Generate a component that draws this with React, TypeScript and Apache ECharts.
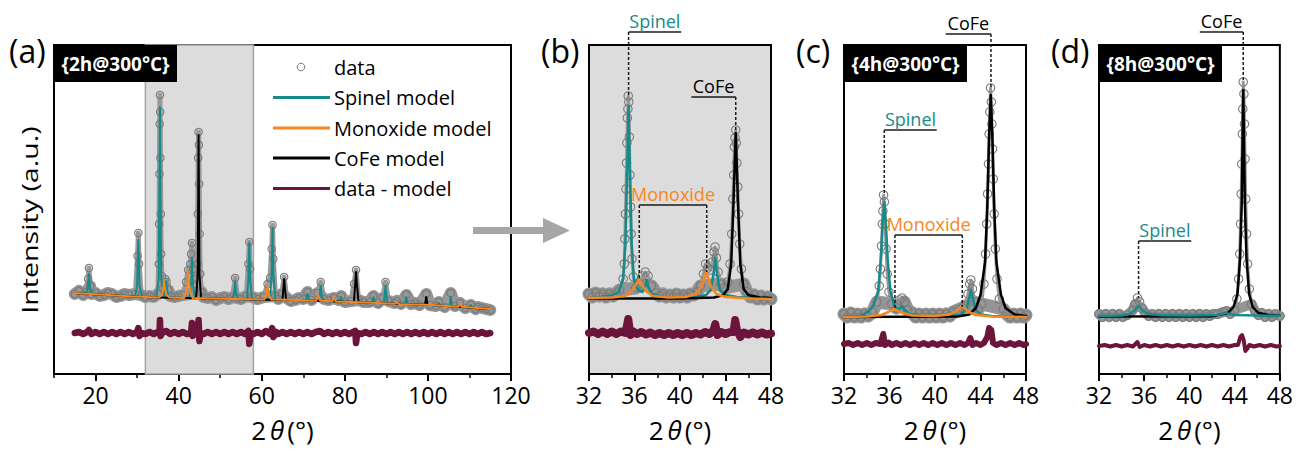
import React, { useEffect, useRef } from 'react';
import * as echarts from 'echarts';

// ---------- axis ticks ----------
const ticksA = [20, 40, 60, 80, 100, 120];
const minorA = [10, 30, 50, 70, 90, 110];
const ticksZoom = [32, 36, 40, 44, 48];
const minorZoom = [34, 38, 42, 46];
const shadeRange = [32, 58];

// ---------- panel (a) 2h@300°C, full range ----------
const dataA = [[15,80],[16,83],[17,79],[17.8,82],[18.2,95],[18.4,106],[18.7,88],[19,80],[20,81],[21,78],[22,79],[23,81],[24,80],[25,77],[26,78],[27,80],[28,79],[29.6,80],[30.1,118],[30.3,141],[30.5,110],[31,79],[32,77],[33,78],[34,77],[35,80],[35.2,110],[35.3,150],[35.38,200],[35.44,250],[35.5,279],[35.56,262],[35.62,216],[35.7,160],[35.8,120],[35.95,98],[36.3,86],[36.8,95],[37.1,92],[37.5,84],[38,78],[39,77],[40,78],[41,79],[41.8,92],[42.3,104],[42.8,110],[43.0,120],[43.2,131],[43.5,105],[43.8,95],[44.3,90],[44.5,110],[44.6,160],[44.7,216],[44.8,242],[44.88,229],[44.95,190],[45.05,140],[45.2,100],[45.5,82],[46,77],[47,76],[48,77],[49,74],[50,76],[51,77],[52,75],[53,77],[53.6,96],[54.2,76],[55,75],[56.3,78],[56.8,110],[57,132],[57.2,105],[57.7,77],[59,75],[60.5,77],[61.4,90],[62,96],[62.4,125],[62.6,149],[62.8,115],[63.3,78],[64,75],[64.8,80],[65.4,97],[66,76],[67,73],[68,74],[69,76],[70,75],[71,82],[72,74],[73.4,81],[74.2,92],[75,75],[76,74],[77.4,76],[78.5,74],[79.1,78],[80,72],[81.5,73],[82.2,90],[82.7,104],[83.3,74],[84.5,72],[86,72],[86.9,78],[88,71],[89.1,76],[89.8,92],[90.5,73],[92,71],[92.5,73],[93.5,70],[94.8,79],[96,70],[97,71],[98,69],[99.6,80],[100.5,69],[102,68],[102.6,72],[104,67],[105.5,81],[106.5,68],[107.7,71],[109,66],[110.3,69],[111.5,65],[112,67],[113,66],[114,65],[115,64]];
const spinelA = [[15,81],[17.6,80.3],[18.1,85],[18.4,100],[18.7,85],[19.3,79.8],[29.5,77.7],[30.0,88],[30.3,134],[30.6,88],[31.2,77.4],[34.6,76.7],[35.2,95],[35.4,200],[35.5,267],[35.6,200],[35.8,95],[36.5,78],[36.8,84],[37.0,93],[37.2,84],[37.6,76.5],[42.6,76],[43.0,90],[43.2,116],[43.4,90],[43.9,75.8],[53.0,75],[53.4,82],[53.6,93],[53.8,82],[54.3,75],[56.4,74.8],[56.8,95],[57.0,131],[57.2,95],[57.7,74.7],[62.0,74.4],[62.4,100],[62.6,146],[62.8,100],[63.3,74.3],[70.6,74],[71.0,80],[71.4,73.8],[73.8,73.3],[74.0,80],[74.2,88],[74.4,80],[74.8,73],[78.8,72.5],[79.1,77],[79.4,72.4],[86.6,71.3],[86.9,77],[87.2,71.1],[89.4,70.8],[89.6,79],[89.8,88],[90.0,79],[90.3,70.6],[94.5,70],[94.8,77],[95.1,69.9],[102.3,68.6],[102.6,71],[102.9,68.5],[105.2,67.8],[105.5,77],[105.8,67.7],[110.0,66.4],[110.3,69],[110.6,66.3],[115,65]];
const cofeA = [[15,81],[29,77.5],[35,76.5],[44.2,75.8],[44.6,100],[44.8,239],[45.0,100],[45.4,75.7],[53,75],[65.0,74.1],[65.2,85],[65.4,95],[65.6,85],[65.9,74],[69,74],[82.2,72.1],[82.5,90],[82.7,102],[82.9,90],[83.3,71.8],[85,71.5],[99.3,69.3],[99.6,77],[99.9,69.2],[101,69],[115,65]];
const monoxideA = [[15,81],[29,77.5],[35.3,76.5],[36.0,79],[36.3,85],[36.5,94],[36.7,85],[37.1,79],[37.8,76.4],[41.3,76],[41.9,82],[42.15,92],[42.3,103],[42.45,92],[42.8,82],[43.4,75.9],[53,75],[60.6,74.5],[61.1,79],[61.4,88],[61.7,79],[62.3,74.4],[69,74],[73.1,73.3],[73.6,79],[74.1,73.2],[77.0,72.7],[77.4,77],[77.8,72.6],[85,71.5],[92.1,70.3],[92.5,72],[92.9,70.1],[101,69],[107.3,67.3],[107.7,70],[108.1,67.2],[115,65]];
const residualA = [[15,41],[16,42],[17,40],[18,42],[18.4,44],[19,40],[20,42],[21,40],[22,42],[23,40],[24,42],[25,40],[26,42],[27,40],[28,42],[29,40],[30,42],[30.3,46],[30.6,38],[31,41],[32,40],[33,42],[34,40],[35,42],[35.4,41],[35.5,54],[35.65,38],[36,41],[37,43],[38,40],[39,42],[40,40],[41,42],[42,40],[43,41],[43.2,51],[43.4,38],[44,41],[44.6,41],[44.8,54],[45.0,33],[45.3,41],[46,40],[47,42],[48,40],[49,42],[50,40],[51,42],[52,40],[53,42],[54,40],[55,42],[56,40],[56.8,43],[57.0,30],[57.3,41],[58,40],[59,42],[60,40],[61,43],[62,40],[62.5,46],[62.8,37],[63.5,42],[64,40],[65,42],[66,40],[67,42],[68,40],[69,42],[70,40],[71,42],[72,40],[73,42],[74,43],[75,40],[76,42],[77,40],[78,42],[79,40],[80,42],[81,40],[82,42],[82.5,43],[82.7,31],[83.0,41],[84,40],[85,42],[86,40],[87,42],[88,40],[89,42],[90,40],[91,42],[92,40],[93,42],[94,40],[95,42],[96,40],[97,42],[98,40],[99,42],[100,40],[101,42],[102,40],[103,42],[104,40],[105,42],[106,40],[107,42],[108,40],[109,42],[110,40],[111,42],[112,40],[113,42],[114,40],[115,41]];

// ---------- panel (b) zoom of 2h@300°C ----------
const dataB = [[32,80],[32.3,77],[32.6,81],[32.9,78],[33.2,80],[33.5,77],[33.8,80],[34.1,78],[34.4,81],[34.7,84],[35.0,95],[35.1,110],[35.15,135],[35.2,160],[35.25,185],[35.3,211],[35.33,231],[35.37,256],[35.42,265],[35.45,278],[35.5,272],[35.55,237],[35.6,199],[35.65,167],[35.7,140],[35.78,115],[35.9,97],[36.1,86],[36.4,90],[36.7,98],[36.95,102],[37.2,98],[37.5,88],[37.9,81],[38.2,78],[38.5,80],[38.8,77],[39.1,79],[39.4,77],[39.7,80],[40,77],[40.3,79],[40.6,77],[40.9,80],[41.2,79],[41.5,82],[41.8,88],[42.05,100],[42.25,110],[42.45,106],[42.65,104],[42.85,112],[43.0,122],[43.08,127],[43.2,116],[43.35,102],[43.6,90],[43.9,86],[44.2,92],[44.4,110],[44.55,140],[44.65,175],[44.72,199],[44.78,227],[44.84,236],[44.9,244],[44.95,231],[45.0,211],[45.08,187],[45.15,160],[45.25,130],[45.4,105],[45.6,90],[45.9,82],[46.2,77],[46.5,79],[46.8,75],[47.1,78],[47.4,75],[47.7,77],[48,75]];
const spinelB = [[32,76],[33,77],[34,78.5],[34.6,82],[35.0,95],[35.2,130],[35.35,200],[35.48,267],[35.6,200],[35.75,130],[35.95,95],[36.3,84],[36.7,82],[36.95,88],[37.07,94],[37.2,88],[37.5,80],[38.5,77],[40,76.5],[41.5,77],[42.3,79],[42.7,84],[42.95,100],[43.1,116],[43.25,100],[43.5,84],[44,79],[45,77],[46,76.5],[48,76]];
const cofeB = [[32,75.5],[40,75.5],[43,76.5],[43.8,79],[44.2,85],[44.5,110],[44.7,170],[44.9,241],[45.1,170],[45.3,110],[45.6,85],[46,79],[47,76.5],[48,76]];
const monoxideB = [[32,76],[34,76.5],[35.2,78],[35.8,83],[36.15,90],[36.4,94],[36.65,90],[37.0,83],[37.6,78],[39,76.5],[40.5,77],[41.4,80],[41.9,88],[42.15,97],[42.3,102],[42.45,97],[42.7,88],[43.2,80],[44,77],[46,75.5],[48,75]];
const residualB = [[32,41],[32.4,42.5],[32.8,40],[33.2,42.5],[33.6,40],[34,42.5],[34.4,40],[34.8,42.5],[35.2,41],[35.45,55],[35.65,39],[35.9,42.5],[36.2,40],[36.6,42],[37,39.5],[37.4,41.5],[37.8,39],[38.2,41],[38.6,39],[39,41],[39.4,39],[39.8,41],[40.2,39],[40.6,41],[41,39],[41.4,41],[41.8,39.5],[42.2,42],[42.6,40],[42.95,44],[43.1,50],[43.3,39],[43.6,42],[44,40],[44.4,42],[44.7,42],[44.85,54],[45.0,44],[45.3,37],[45.6,41.5],[46,39.5],[46.4,41.5],[46.8,39.5],[47.2,41.5],[47.6,39.5],[48,40.5]];

// ---------- panel (c) 4h@300°C ----------
const dataC = [[32,60],[32.3,57],[32.6,61],[32.9,57],[33.2,60],[33.5,57],[33.8,60],[34.1,58],[34.5,62],[34.9,72],[35.1,88],[35.2,105],[35.3,128],[35.37,150],[35.42,163],[35.48,179],[35.55,172],[35.62,150],[35.7,125],[35.8,100],[35.95,82],[36.2,70],[36.6,66],[36.9,74],[37.1,76],[37.3,72],[37.6,64],[38,61],[38.3,57],[38.6,60],[38.9,57],[39.2,60],[39.5,57],[39.8,60],[40.1,57],[40.4,60],[40.7,57],[41,60],[41.3,58],[41.6,62],[42,64],[42.4,66],[42.7,68],[42.9,80],[43.05,90],[43.15,94],[43.3,85],[43.5,72],[43.8,65],[44.1,70],[44.3,90],[44.45,120],[44.55,150],[44.62,180],[44.7,210],[44.76,240],[44.82,262],[44.88,286],[44.95,272],[45.0,250],[45.06,225],[45.12,195],[45.2,160],[45.3,125],[45.45,95],[45.65,75],[46,65],[46.3,60],[46.6,57],[46.9,60],[47.2,57],[47.5,60],[47.8,57],[48,59]];
const spinelC = [[32,57],[33.5,58],[34.2,63],[34.6,69],[35.0,83],[35.24,115],[35.39,149],[35.54,172],[35.69,149],[35.84,115],[36.08,83],[36.4,69],[36.7,65],[36.95,66],[37.1,68],[37.3,64.5],[37.7,60],[39,58],[41,58],[42.3,59],[42.8,66],[43.0,76],[43.16,84],[43.32,76],[43.55,65],[44,59.5],[45,58],[48,57.5]];
const cofeC = [[32,57],[42,57.5],[43.0,59.5],[43.6,66],[44.0,79],[44.4,112],[44.6,168],[44.75,235],[44.9,279],[45.05,235],[45.2,168],[45.4,112],[45.8,79],[46.2,66],[47,59.5],[48,58]];
const monoxideC = [[32,57],[34,57.5],[35.3,59],[35.9,62],[36.2,64],[36.45,64.7],[36.7,63.5],[37.1,61],[38,58.5],[40,58],[41.3,59.5],[41.9,63],[42.2,66.5],[42.4,67.3],[42.6,66],[42.95,62],[43.6,59],[45,57.5],[48,57]];
const residualC = [[32,30],[32.4,31],[32.8,29],[33.2,31],[33.6,29],[34,31],[34.4,29],[34.8,31],[35.2,30],[35.45,40],[35.6,29],[35.9,31.5],[36.2,29],[36.6,31],[37,29],[37.4,31],[37.8,29],[38.2,31],[38.6,29],[39,31],[39.4,29],[39.8,31],[40.2,29],[40.6,31],[41,29],[41.4,31],[41.8,29],[42.2,31],[42.6,29],[42.9,31],[43.1,36],[43.3,29],[43.6,31],[44,29],[44.3,31],[44.6,37],[44.75,46],[44.95,44],[45.1,31],[45.4,29],[45.8,31],[46.2,29],[46.6,31],[47,29],[47.4,31],[47.8,29],[48,30]];

// ---------- panel (d) 8h@300°C ----------
const dataD = [[32,60],[32.3,57],[32.6,60],[32.9,57],[33.2,60],[33.5,57],[33.8,60],[34.1,57],[34.5,59],[35,64],[35.2,70],[35.4,76],[35.6,72],[35.8,66],[36.1,61],[36.4,58],[36.7,60],[37,57],[37.3,60],[37.6,57],[37.9,60],[38.2,57],[38.5,60],[38.8,57],[39.1,60],[39.4,57],[39.7,60],[40,57],[40.3,60],[40.6,57],[40.9,60],[41.2,57],[41.5,60],[41.8,58],[42.1,60],[42.5,60],[43,62],[43.3,63],[43.6,60],[44,64],[44.2,75],[44.35,95],[44.45,120],[44.52,150],[44.58,180],[44.63,210],[44.68,240],[44.72,265],[44.76,292],[44.82,280],[44.87,250],[44.92,215],[44.98,175],[45.05,140],[45.15,110],[45.3,85],[45.5,70],[45.8,63],[46.1,59],[46.4,61],[46.7,57],[47,60],[47.3,57],[47.6,60],[48,58]];
const spinelD = [[32,58],[34,58.5],[34.7,60],[35.1,63],[35.35,66.5],[35.5,68],[35.65,66.5],[35.9,63],[36.4,60],[37.5,58.8],[40,58.5],[42.5,59],[43.0,60.5],[43.2,61.5],[43.4,60.3],[44,59],[46,58.5],[48,58.3]];
const cofeD = [[32,57.5],[42,57.8],[43.4,61],[43.9,67],[44.25,80],[44.48,115],[44.63,172],[44.76,284],[44.9,172],[45.05,115],[45.28,80],[45.6,67],[46.1,61],[47,59],[48,58.5]];
const residualD = [[32,28],[32.5,29],[33,27.5],[33.5,29],[34,27.5],[34.5,29],[35,27.5],[35.4,32],[35.6,27],[36,29],[36.5,27.5],[37,29],[37.5,27.5],[38,29],[38.5,27.5],[39,29],[39.5,27.5],[40,29],[40.5,27.5],[41,29],[41.5,27.5],[42,29],[42.5,27.5],[43,29],[43.5,27.5],[44,29],[44.3,29],[44.5,37],[44.65,39],[44.8,34],[44.95,23],[45.1,25],[45.3,29],[45.7,27.5],[46.2,29],[46.7,27.5],[47.2,29],[47.7,27.5],[48,28]];

// dense-noise cut level of the data band in each panel
const bandCut = [88, 90, 72, 70];

// ---------- phase markers ----------
const markerLabels = ['Spinel', 'CoFe', 'Monoxide', 'CoFe', 'Spinel', 'Monoxide', 'CoFe', 'Spinel'];
const markerPanels = [1, 1, 1, 2, 2, 2, 3, 3];
const markerBars = [[35.48, 40.1, 342], [41.0, 44.9, 277], [36.42, 42.35, 169], [40.94, 44.92, 340], [35.54, 40.15, 244], [36.48, 42.4, 139], [40.92, 44.76, 342], [35.5, 40.16, 133]];
const markerDrops = [[[35.48, 278]], [[44.9, 244]], [[36.42, 94], [42.35, 102]], [[44.92, 286]], [[35.54, 179]], [[36.48, 65], [42.4, 67]], [[44.76, 292]], [[35.5, 76]]];

const panelTags = ['(a)', '(b)', '(c)', '(d)'];
const conditionTags = ['{2h@300°C}', '', '{4h@300°C}', '{8h@300°C}'];
const legendNames = ['data', 'Spinel model', 'Monoxide model', 'CoFe model', 'data - model'];

const FONT = '"Open Sans", "Noto Sans", sans-serif';
const TEAL = '#178a8b';
const ORANGE = '#f7861e';
const MAROON = '#6d143d';
const BLACK = '#000000';
const COLORS: Record<string, string> = { Spinel: TEAL, Monoxide: ORANGE, CoFe: BLACK };

const GRIDS = [
  { left: 54, top: 45, width: 457, height: 329 },
  { left: 589, top: 45, width: 182, height: 329 },
  { left: 844, top: 45, width: 182, height: 329 },
  { left: 1099, top: 45, width: 183, height: 329 },
];

export default function App() {
  const ref = useRef<HTMLDivElement>(null);
  useEffect(() => {
    const chart = echarts.init(ref.current!, null, { renderer: 'svg' });

    const grid = GRIDS.map((g, i) => ({
      ...g,
      show: true,
      borderColor: '#000',
      borderWidth: 2,
      backgroundColor: i === 1 ? '#dcdcdc' : 'transparent',
    }));

    const isA = (i: number) => i === 0;
    const xMain = GRIDS.map((_, i) => ({
      type: 'value',
      gridIndex: i,
      min: isA(i) ? 10 : 32,
      max: isA(i) ? 120 : 48,
      position: 'bottom',
      splitLine: { show: false },
      axisLine: { show: true, onZero: false, lineStyle: { color: '#000', width: 2 } },
      axisTick: { show: true, length: 7, lineStyle: { color: '#000', width: 2 }, customValues: isA(i) ? ticksA : ticksZoom },
      axisLabel: { show: true, customValues: isA(i) ? ticksA : ticksZoom, fontSize: 23, color: '#000', fontFamily: FONT, margin: 9, hideOverlap: false, showMinLabel: true, showMaxLabel: true },
      name: '{n|2}{i|θ}{n|(°)}',
      nameLocation: 'middle',
      nameGap: 43,
      nameTextStyle: {
        color: '#000',
        fontSize: 26,
        fontFamily: FONT,
        rich: {
          n: { fontSize: 26, fontFamily: FONT, color: '#000' },
          i: { fontSize: 26, fontFamily: FONT, fontStyle: 'italic', color: '#000', padding: [0, 3, 0, 4] },
        },
      },
    }));
    const xMinor = GRIDS.map((_, i) => ({
      type: 'value',
      gridIndex: i,
      min: isA(i) ? 10 : 32,
      max: isA(i) ? 120 : 48,
      position: 'bottom',
      splitLine: { show: false },
      axisLine: { show: false, onZero: false },
      axisTick: { show: true, length: 4, lineStyle: { color: '#000', width: 1.5 }, customValues: isA(i) ? minorA : minorZoom },
      axisLabel: { show: false },
    }));
    const yAxes = GRIDS.map((_, i) => ({
      type: 'value',
      gridIndex: i,
      min: 0,
      max: 329,
      splitLine: { show: false },
      axisLine: { show: true, lineStyle: { color: '#000', width: 2 } },
      axisTick: { show: false },
      axisLabel: { show: false },
    }));

    const bandSeries = (data: number[][], i: number, lw: number) => ({
      type: 'line',
      name: 'data',
      data: data.filter((p) => p[1] <= bandCut[i]),
      xAxisIndex: i,
      yAxisIndex: i,
      z: 2,
      silent: true,
      showSymbol: false,
      symbol: 'none',
      lineStyle: { color: '#959595', width: lw, join: 'round', cap: 'round' },
    });
    const dataSeries = (data: number[][], i: number, size: number, lw: number) => ({
      type: 'line',
      name: 'data',
      data,
      xAxisIndex: i,
      yAxisIndex: i,
      z: 2,
      silent: true,
      showSymbol: true,
      showAllSymbol: true,
      symbol: 'circle',
      symbolSize: size,
      itemStyle: { color: 'rgba(0,0,0,0)', borderColor: '#7a7a7a', borderWidth: 1.1 },
      lineStyle: { color: '#999999', width: lw, join: 'round', cap: 'round' },
    });
    const lineSeries = (name: string, data: number[][], i: number, color: string, lw: number, z: number) => ({
      type: 'line',
      name,
      data,
      xAxisIndex: i,
      yAxisIndex: i,
      z,
      silent: true,
      showSymbol: false,
      symbol: 'none',
      lineStyle: { color, width: lw, join: 'round', cap: 'round' },
    });

    const series: any[] = [
      {
        type: 'line',
        name: 'shade',
        data: [],
        xAxisIndex: 0,
        yAxisIndex: 0,
        z: 1,
        silent: true,
        markArea: {
          silent: true,
          itemStyle: { color: '#dcdcdc', borderColor: '#a3a3a3', borderWidth: 1.5 },
          data: [[{ xAxis: shadeRange[0] }, { xAxis: shadeRange[1] }]],
        },
      },
      bandSeries(dataA, 0, 12),
      dataSeries(dataA, 0, 7.5, 5),
      lineSeries('Spinel model', spinelA, 0, TEAL, 2, 3),
      lineSeries('CoFe model', cofeA, 0, BLACK, 2, 4),
      lineSeries('Monoxide model', monoxideA, 0, ORANGE, 2, 5),
      lineSeries('data - model', residualA, 0, MAROON, 6.5, 6),

      bandSeries(dataB, 1, 13),
      dataSeries(dataB, 1, 8.5, 3),
      lineSeries('Spinel model', spinelB, 1, TEAL, 2.5, 3),
      lineSeries('CoFe model', cofeB, 1, BLACK, 2.5, 4),
      lineSeries('Monoxide model', monoxideB, 1, ORANGE, 2.5, 5),
      lineSeries('data - model', residualB, 1, MAROON, 8, 6),

      bandSeries(dataC, 2, 13),
      dataSeries(dataC, 2, 8.5, 3),
      lineSeries('Spinel model', spinelC, 2, TEAL, 2.5, 3),
      lineSeries('CoFe model', cofeC, 2, BLACK, 2.5, 4),
      lineSeries('Monoxide model', monoxideC, 2, ORANGE, 2.5, 5),
      lineSeries('data - model', residualC, 2, MAROON, 6, 6),

      bandSeries(dataD, 3, 10),
      dataSeries(dataD, 3, 8.5, 3),
      lineSeries('CoFe model', cofeD, 3, BLACK, 2.5, 3),
      lineSeries('Spinel model', spinelD, 3, TEAL, 2.5, 4),
      lineSeries('data - model', residualD, 3, MAROON, 4, 6),
    ];

    chart.setOption({
      animation: false,
      textStyle: { fontFamily: FONT },
      grid,
      xAxis: [...xMain, ...xMinor],
      yAxis: yAxes,
      series,
    });

    const px = (i: number, p: number[]) =>
      chart.convertToPixel({ xAxisIndex: i, yAxisIndex: i } as any, p) as number[];

    const graphics: any[] = [];
    // y-axis title of panel (a)
    graphics.push({
      type: 'text', z: 100, silent: true, x: 29, y: 220, rotation: Math.PI / 2, scaleX: 1.3,
      style: { text: 'Intensity (a.u.)', fill: '#000', fontSize: 22, fontFamily: FONT, align: 'center', verticalAlign: 'middle' },
    });

    // phase markers
    markerLabels.forEach((label, k) => {
      const i = markerPanels[k];
      const [x1, x2, yb] = markerBars[k];
      const a = px(i, [x1, yb]);
      const b = px(i, [x2, yb]);
      graphics.push({
        type: 'line', z: 100, silent: true,
        shape: { x1: a[0], y1: a[1], x2: b[0], y2: b[1] },
        style: { stroke: '#1a1a1a', lineWidth: 1.5 },
      });
      markerDrops[k].forEach((d) => {
        const top = px(i, [d[0], yb]);
        const bot = px(i, d);
        graphics.push({
          type: 'line', z: 100, silent: true,
          shape: { x1: top[0], y1: top[1], x2: bot[0], y2: bot[1] },
          style: { stroke: '#1a1a1a', lineWidth: 1.5, lineDash: [3, 2] },
        });
      });
      graphics.push({
        type: 'text', z: 100, silent: true,
        x: (a[0] + b[0]) / 2,
        y: a[1] - 2,
        style: { text: label, fill: COLORS[label], fontSize: 18, fontFamily: FONT, align: 'center', verticalAlign: 'bottom' },
      });
    });

    // panel tags and condition boxes
    panelTags.forEach((t, i) => {
      const tagX = [9, 541, 796, 1051][i];
      graphics.push({
        type: 'text', z: 100, silent: true, x: tagX, y: 50,
        style: { text: t, fill: '#000', fontSize: 32, fontFamily: FONT, align: 'left', verticalAlign: 'middle' },
      });
      if (conditionTags[i]) {
        const g = GRIDS[i];
        graphics.push({
          type: 'rect', z: 100, silent: true,
          shape: { x: g.left, y: g.top, width: 123, height: 37 },
          style: { fill: '#000' },
        });
        graphics.push({
          type: 'text', z: 101, silent: true, x: g.left + 61.5, y: g.top + 19,
          style: { text: conditionTags[i], fill: '#fff', fontSize: 19, fontWeight: 'bold', fontFamily: FONT, align: 'center', verticalAlign: 'middle' },
        });
      }
    });

    // legend (panel a)
    const legendY = [67, 97.5, 128, 158, 188.5];
    const legendColors = ['#7a7a7a', TEAL, ORANGE, BLACK, MAROON];
    legendNames.forEach((n, k) => {
      if (k === 0) {
        graphics.push({
          type: 'circle', z: 100, silent: true,
          shape: { cx: 301, cy: legendY[k], r: 3.8 },
          style: { fill: 'rgba(0,0,0,0)', stroke: legendColors[k], lineWidth: 1 },
        });
      } else {
        graphics.push({
          type: 'line', z: 100, silent: true,
          shape: { x1: 273, y1: legendY[k], x2: 330, y2: legendY[k] },
          style: { stroke: legendColors[k], lineWidth: 3 },
        });
      }
      graphics.push({
        type: 'text', z: 100, silent: true, x: 334, y: legendY[k],
        style: { text: n, fill: '#000', fontSize: 20, fontFamily: FONT, align: 'left', verticalAlign: 'middle' },
      });
    });

    // arrow between (a) and (b)
    graphics.push({
      type: 'polygon', z: 100, silent: true,
      shape: { points: [[473, 227], [543, 227], [543, 218], [570, 230.5], [543, 243], [543, 234], [473, 234]] },
      style: { fill: '#a6a6a6' },
    });

    chart.setOption({ graphic: graphics });

    return () => chart.dispose();
  }, []);
  return (
    <div
      ref={ref}
      style={{ position: 'absolute', left: 0, top: 0, width: 1296, height: 451, background: '#fff' }}
    />
  );
}
